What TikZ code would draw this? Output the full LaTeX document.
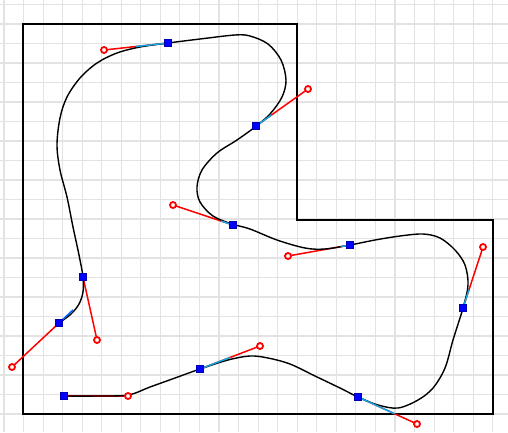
\documentclass[tikz,border=0pt]{standalone}
\usetikzlibrary{calc}
\begin{document}
\begin{tikzpicture}[x=1pt,y=-1pt,
  gridline/.style={draw=gray!22,line width=1.1pt},
  frame/.style={draw=black,line width=1.5pt},
  curve/.style={draw=black,line width=1.4pt,line join=round},
  handle/.style={draw=red,line width=1.5pt},
  overlap/.style={draw=cyan!85!teal,line width=1.5pt},
  knob/.style={draw=red,fill=white,line width=1.8pt},
  anchorbox/.style={fill=blue,draw=blue!70!black,line width=0.4pt}]
\useasboundingbox (0,0) rectangle (508,432);
\fill[white] (0,0) rectangle (508,432);
% grid
\foreach \k in {-1,...,24} {\draw[gridline] ({23.5+19.55*\k},0) -- ({23.5+19.55*\k},432);}
\foreach \k in {-1,...,21} {\draw[gridline] (0,{24+19.5*\k}) -- (508,{24+19.5*\k});}
% frame
\draw[frame] (23,24) -- (297,24) -- (297,220) -- (493,220) -- (493,414) -- (23,414) -- cycle;
% anchors and handle ends
\coordinate (a1) at (168,43);  \coordinate (h1) at (104,50);
\coordinate (a2) at (256,126); \coordinate (h2) at (308,89);
\coordinate (a3) at (233,225); \coordinate (h3) at (173,205);
\coordinate (a4) at (350,245); \coordinate (h4) at (288,256);
\coordinate (a5) at (463,308); \coordinate (h5) at (483,247);
\coordinate (a6) at (358,397); \coordinate (h6) at (417,424);
\coordinate (a7) at (200,369); \coordinate (h7) at (260,346);
\coordinate (a8) at (64,396);  \coordinate (h8) at (128,396);
\coordinate (a9) at (59,323);  \coordinate (h9) at (12,367);
\coordinate (a10) at (83,277); \coordinate (h10) at (97,340);
% handles
\foreach \i in {1,...,10} {\draw[handle] (a\i) -- (h\i);}
% curve
\draw[curve] plot[smooth,tension=0.55] coordinates {
(64,396) (96,396) (128,395) (150,387) (175,378) (200,369) (228,360) (250,356)
(268,358) (290,364) (315,376) (340,388) (358,397) (378,405) (398,408) (418,400)
(433,388) (445,368) (453,340) (463,308) (468,285) (465,265) (455,250) (440,238)
(423,234) (400,236) (375,240) (350,245) (325,249) (305,248) (277,240) (250,229)
(232,224) (213,216) (200,202) (197,187) (202,170) (217,153) (237,140) (255,127)
(270,114) (282,97) (286,80) (281,60) (268,44) (250,36) (235,35) (200,39) (168,43)
(140,47) (117,53) (97,63) (80,78) (67,97) (60,118) (57,145) (60,170) (67,197)
(73,227) (79,255) (83,277) (83,292) (79,304) (71,314) (59,323)};
% overlaps of curve and handle
\draw[overlap] (a1) -- ($(a1)!0.5!(h1)$);
\draw[overlap] (a2) -- ($(a2)!0.3!(h2)$);
\draw[overlap] (a3) -- ($(a3)!0.2!(h3)$);
\draw[overlap] (a4) -- ($(a4)!0.15!(h4)$);
\draw[overlap] (a5) -- ($(a5)!0.3!(h5)$);
\draw[overlap] (a6) -- ($(a6)!0.62!(h6)$);
\draw[overlap] (a7) -- ($(a7)!0.5!(h7)$);
\draw[draw=blue!60!cyan,line width=1.5pt] (a9) -- ($(a9)!-0.3!(h9)$);
% anchor boxes
\foreach \i in {1,...,10} {\fill[anchorbox] ($(a\i)+(-3.5,-3.5)$) rectangle ($(a\i)+(3.5,3.5)$);}
% handle knobs
\foreach \i in {1,...,10} {\draw[knob] (h\i) circle (3pt);}
\end{tikzpicture}
\end{document}
